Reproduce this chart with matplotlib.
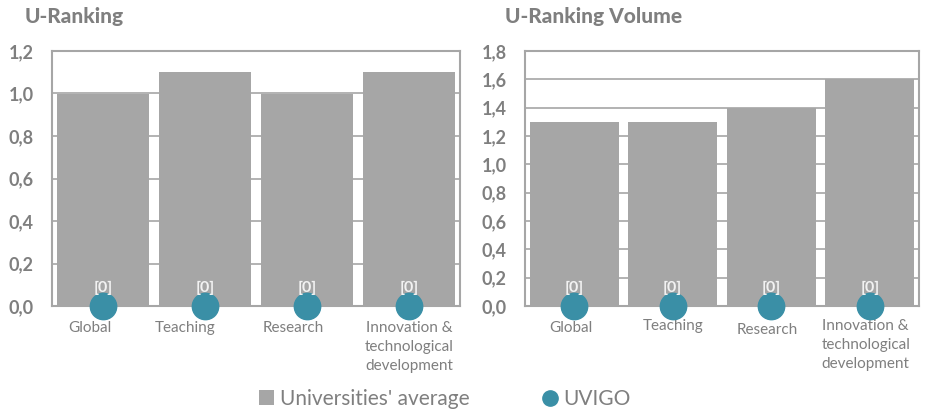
import matplotlib
matplotlib.use("Agg")
import matplotlib.pyplot as plt
from matplotlib.ticker import FuncFormatter, MultipleLocator
from matplotlib.lines import Line2D
from matplotlib.patches import Patch
import matplotlib.transforms as mtrans

categories = ["Global", "Teaching", "Research", "Innovation &\ntechnological\ndevelopment"]
avg_ranking = [1.0, 1.1, 1.0, 1.1]
uvigo_ranking = [0, 0, 0, 0]
avg_volume = [1.3, 1.3, 1.4, 1.6]
uvigo_volume = [0, 0, 0, 0]
titles = ["U-Ranking", "U-Ranking Volume"]
ymax = [1.2, 1.8]

BAR = "#a6a6a6"
DOT = "#3a8fa6"
TXT = "#7f7f7f"
plt.rcParams['font.family'] = ['Lato', 'DejaVu Sans']

fig = plt.figure(figsize=(9.31, 4.12), dpi=100)
W, H = 931, 412
axes_px = [(52, 460), (525, 919)]
title_x = [25, 505]
top, bottom = 51, 306
label_dx = [[-13, -20, -14, 0], [-3, 0, -4, -4]]
label_dy = [[0, 0, 0, 0], [0, 2, -2, 2]]

for i, (avg, uv) in enumerate([(avg_ranking, uvigo_ranking), (avg_volume, uvigo_volume)]):
    x0, x1 = axes_px[i]
    ax = fig.add_axes([x0 / W, 1 - bottom / H, (x1 - x0) / W, (bottom - top) / H])
    xs = range(len(categories))
    ax.bar(xs, avg, width=0.9, color=BAR, zorder=2)
    ax.plot(xs, uv, 'o', color=DOT, markersize=19, zorder=4, clip_on=False)
    for x, v in zip(xs, uv):
        ax.annotate(f"[{v}]", (x, v), xytext=(0, 13), textcoords="offset points",
                    ha="center", va="center", color="#f2f2f2", fontsize=11.5,
                    fontweight="bold", zorder=5)
    ax.set_xlim(-0.5, len(categories) - 0.5)
    ax.set_ylim(0, ymax[i])
    ax.yaxis.set_major_locator(MultipleLocator(0.2))
    ax.yaxis.set_major_formatter(FuncFormatter(lambda v, p: f"{v:.1f}".replace(".", ",")))
    ax.grid(axis="y", color=BAR, linewidth=1.2, zorder=1)
    ax.set_axisbelow(True)
    for s in ax.spines.values():
        s.set_color(BAR)
        s.set_linewidth(1.5)
    ax.tick_params(axis="both", length=0)
    ax.tick_params(axis="y", labelsize=13, labelcolor=TXT, pad=13)
    ax.set_xticks(list(xs))
    ax.set_xticklabels(categories, fontsize=11, color=TXT, linespacing=1.45)
    ax.tick_params(axis="x", pad=11)
    for lab in ax.get_yticklabels():
        lab.set_fontweight("bold")
    for j, lab in enumerate(ax.get_xticklabels()):
        lab.set_transform(lab.get_transform() + mtrans.ScaledTranslation(
            label_dx[i][j] / 100, label_dy[i][j] / 100, fig.dpi_scale_trans))
    fig.text(title_x[i] / W, 1 - 17 / H, titles[i], fontsize=15, fontweight="black",
             color=TXT, ha="left", va="center")

handles = [Patch(facecolor=BAR, edgecolor="none"),
           Line2D([], [], marker="o", linestyle="none", color=DOT, markersize=11)]
fig.legend(handles, ["Universities' average", "UVIGO"], loc="center",
           bbox_to_anchor=(0.478, 1 - 399 / H), ncol=2, frameon=False,
           fontsize=15, labelcolor=TXT, handlelength=0.7, handletextpad=0.3,
           columnspacing=3.5, handleheight=0.7)

fig.savefig("out.png", dpi=100)
